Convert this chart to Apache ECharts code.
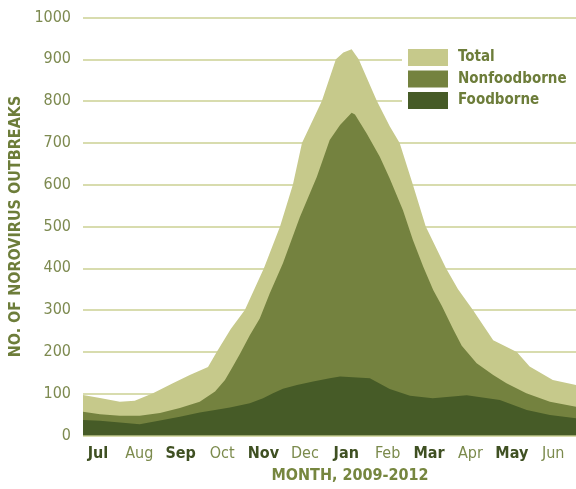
<!DOCTYPE html>
<html>
<head>
<meta charset="utf-8">
<script src="https://cdn.jsdelivr.net/npm/echarts@6/dist/echarts.min.js"></script>
<style>
html,body{margin:0;padding:0;background:#fff;}
#chart{width:576px;height:489px;}
</style>
</head>
<body>
<div id="chart"></div>
<script>
// Month labels (x positions 0..11 = month centres, Jul..Jun)
const monthLabels = ['Jul','Aug','Sep','Oct','Nov','Dec','Jan','Feb','Mar','Apr','May','Jun'];
const boldMonths = [true,false,true,false,true,false,true,false,true,false,true,false];
const yTicks = [0,100,200,300,400,500,600,700,800,900,1000];

// Series data: [month position, outbreaks]
const totalData = [
  [-0.36,97],[0.05,90],[0.53,81],[0.89,83],[1.33,101],[1.81,125],[2.22,145],[2.66,164],
  [2.87,200],[3.21,255],[3.55,300],[4.01,400],[4.40,500],[4.71,600],[4.93,700],[5.17,750],
  [5.41,800],[5.75,900],[5.93,916],[6.13,924],[6.30,900],[6.74,800],[7.05,740],[7.29,700],[7.61,600],
  [7.92,500],[8.41,400],[8.70,350],[9.06,300],[9.55,228],[10.12,200],[10.43,165],[10.99,133],[11.55,121]
];
const nonfoodData = [
  [-0.36,57],[0.05,51],[0.53,47],[1.01,47],[1.50,54],[1.98,66],[2.46,81],[2.83,105],[3.07,133],
  [3.26,165],[3.43,195],[3.67,240],[3.91,280],[4.15,340],[4.47,412],[4.88,523],[5.29,619],
  [5.60,707],[5.85,743],[6.13,772],[6.21,768],[6.49,723],[6.81,667],[7.05,615],[7.37,539],
  [7.61,468],[7.86,404],[8.10,348],[8.31,310],[8.58,255],[8.79,215],[9.15,173],[9.55,145],
  [9.87,125],[10.35,101],[10.92,81],[11.55,69]
];
const foodData = [
  [-0.36,37],[0.05,35],[0.53,31],[1.01,27],[1.50,36],[1.98,45],[2.46,55],[2.83,61],[3.19,67],
  [3.67,77],[3.99,89],[4.23,101],[4.47,112],[4.81,121],[5.20,129],[5.60,137],[5.85,141],
  [6.57,137],[7.05,111],[7.54,95],[8.09,89],[8.91,96],[9.71,85],[10.36,61],[10.92,49],[11.55,41]
];

const FONT = "'DejaVu Sans Condensed','DejaVu Sans',sans-serif";
const chart = echarts.init(document.getElementById('chart'), null, {renderer:'canvas'});

function areaSeries(name, data, color){
  return {
    name: name, type: 'line', data: data, symbol: 'none', smooth: false,
    lineStyle: {width: 0, color: color},
    itemStyle: {color: color},
    areaStyle: {color: color, opacity: 1},
    emphasis: {disabled: true},
    animation: false
  };
}

chart.setOption({
  animation: false,
  grid: {left: 83, right: 0, top: 17.5, bottom: 53.5, containLabel: false, outerBoundsMode: 'none'},
  legend: {
    data: ['Total','Nonfoodborne','Foodborne'],
    orient: 'vertical', left: 402, top: 40,
    backgroundColor: '#ffffff',
    padding: [9, 18, 6, 6],
    itemWidth: 40, itemHeight: 17, itemGap: 4.5,
    icon: 'rect',
    selectedMode: false,
    textStyle: {fontFamily: FONT, fontSize: 15, fontWeight: 'bold', color: '#6d7d3a', lineHeight: 17, padding: [0,0,0,5]}
  },
  xAxis: {
    type: 'value', min: -0.36, max: 11.55,
    axisLine: {show: false}, axisTick: {show: false}, splitLine: {show: false},
    axisLabel: {
      customValues: monthLabels.map((m,i)=>i),
      margin: 10,
      formatter: function(v){
        const i = Math.round(v);
        const lbl = monthLabels[i];
        if (lbl === undefined) return '';
        return boldMonths[i] ? '{b|' + lbl + '}' : '{n|' + lbl + '}';
      },
      rich: {
        b: {fontFamily: FONT, fontSize: 16, fontWeight: 'bold', color: '#3f5022'},
        n: {fontFamily: FONT, fontSize: 16, fontWeight: 'normal', color: '#7b8a4c'}
      }
    }
  },
  yAxis: {
    type: 'value', min: 0, max: 1000, interval: 100,
    name: 'NO. OF NOROVIRUS OUTBREAKS', nameLocation: 'middle', nameGap: 58, nameRotate: 90,
    nameTextStyle: {fontFamily: FONT, fontSize: 16, fontWeight: 'bold', color: '#6d7d3a'},
    axisLine: {show: false}, axisTick: {show: false},
    axisLabel: {fontFamily: FONT, fontSize: 16, color: '#7d8a50', margin: 12,
      formatter: function(v){ return yTicks.indexOf(v) >= 0 ? String(v) : ''; }},
    splitLine: {lineStyle: {color: '#d8dcae', width: 2}}
  },
  graphic: [{
    type: 'text', x: 350, y: 476,
    style: {text: 'MONTH, 2009-2012', fontFamily: FONT, fontSize: 16, fontWeight: 'bold', fill: '#76863f', align: 'center', verticalAlign: 'middle'},
    z: 10
  }],
  series: [
    areaSeries('Total', totalData, '#c6c98b'),
    areaSeries('Nonfoodborne', nonfoodData, '#74823f'),
    areaSeries('Foodborne', foodData, '#465b27')
  ]
});
</script>
</body>
</html>
